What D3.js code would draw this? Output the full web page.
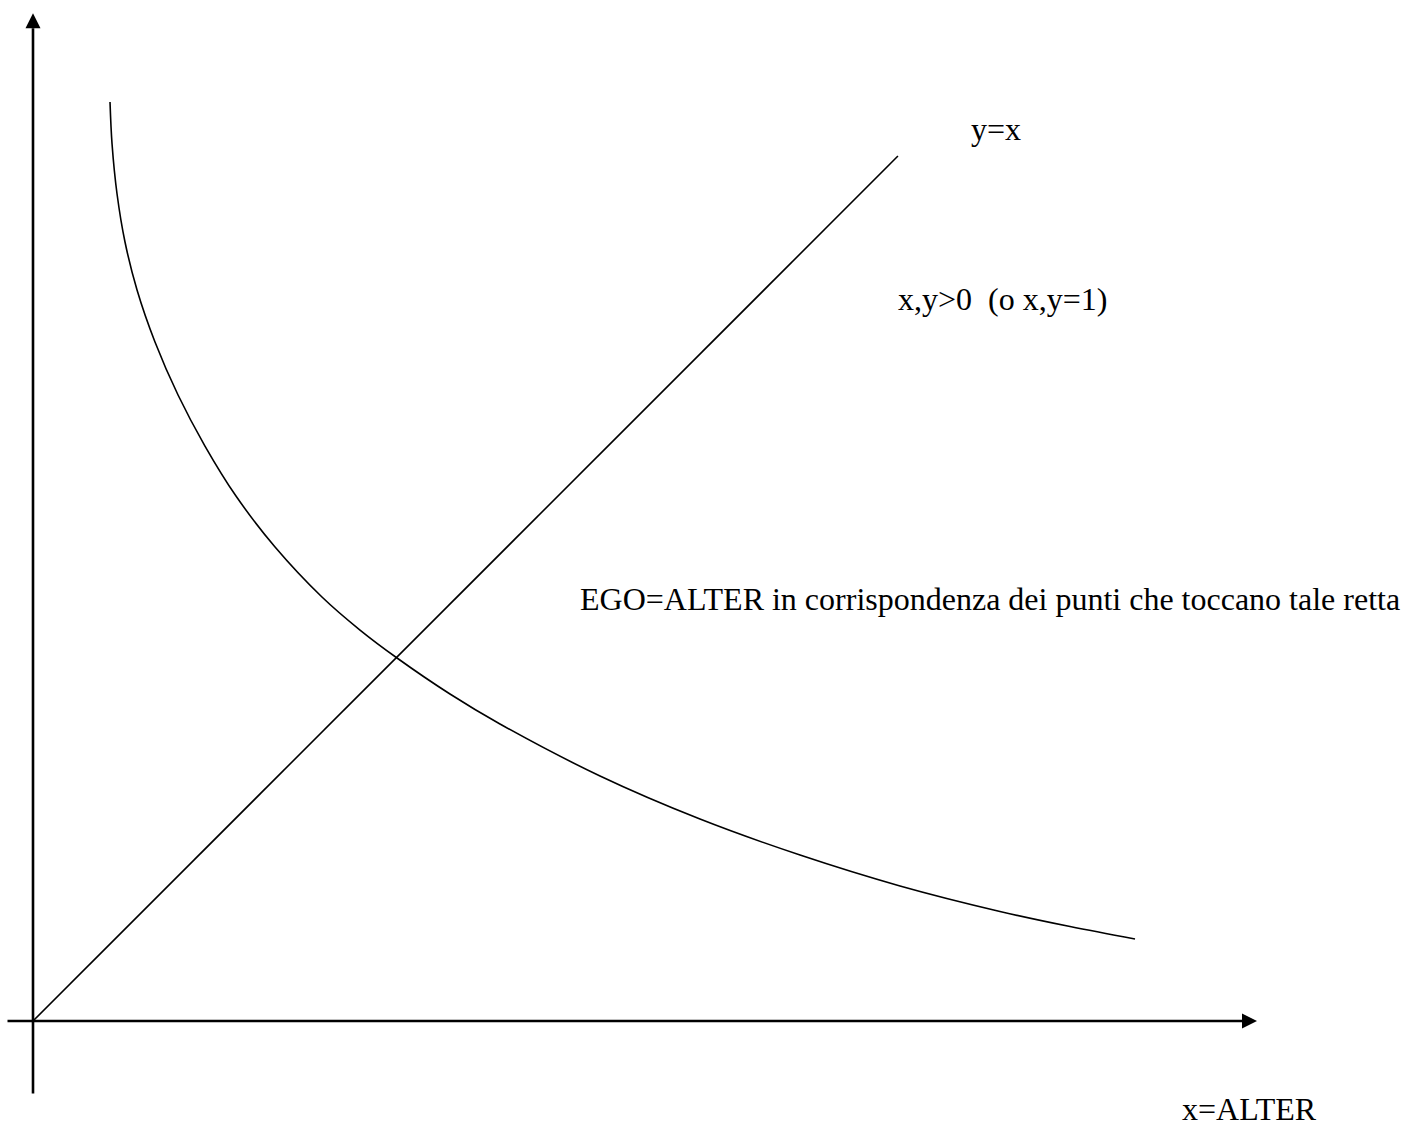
<!DOCTYPE html>
<html>
<head>
<meta charset="utf-8">
<script src="https://cdn.jsdelivr.net/npm/d3@7"></script>
<style>
  html, body { margin: 0; padding: 0; background: #fff; }
  svg { display: block; }
  text { font-family: "Liberation Serif", "Times New Roman", serif; fill: #000; }
</style>
</head>
<body>
<svg class="chart" width="1419" height="1128"></svg>
<script>
// curve (x = ALTER, y = EGO)
var curveX = [0.755, 0.775, 0.824, 0.902, 1.020, 1.196, 1.422, 1.686, 1.990, 2.373, 2.833, 3.206, 3.569, 4.088, 4.578, 5.559, 6.539, 7.520, 8.500, 9.480, 10.167, 10.804];
var curveY = [9.010, 8.598, 8.108, 7.637, 7.167, 6.657, 6.137, 5.637, 5.147, 4.647, 4.157, 3.833, 3.559, 3.206, 2.912, 2.402, 1.980, 1.627, 1.324, 1.074, 0.926, 0.804];
// bisector y = x
var diagX = [0, 8.48];
var diagY = [0, 8.48];
// axis extents (the arrow tips)
var xAxisExtent = [-0.25, 12];
var yAxisExtent = [-0.71, 9.88];
var labels = ["y=x", "x,y>0  (o x,y=1)", "EGO=ALTER in corrispondenza dei punti che toccano tale retta", "x=ALTER"];

var svg = d3.select("svg.chart");
var width = 1419, height = 1128;

var x = d3.scaleLinear().domain([0, 12]).range([33, 1257]);
var y = d3.scaleLinear().domain([0, 10]).range([1021, 1]);

var line = d3.line()
    .x(function(d) { return x(d[0]); })
    .y(function(d) { return y(d[1]); });

var g = svg.append("g");

//Axes with arrow heads
var arrowLen = 15, arrowHalf = 7.5;
g.append("line")
    .attr("x1", x(xAxisExtent[0])).attr("y1", y(0))
    .attr("x2", x(xAxisExtent[1]) - arrowLen).attr("y2", y(0))
    .attr("stroke", "#000").attr("stroke-width", 2.6);
g.append("path")
    .attr("d", "M" + x(xAxisExtent[1]) + "," + y(0) +
               "L" + (x(xAxisExtent[1]) - arrowLen) + "," + (y(0) - arrowHalf) +
               "L" + (x(xAxisExtent[1]) - arrowLen) + "," + (y(0) + arrowHalf) + "Z")
    .attr("fill", "#000");

g.append("line")
    .attr("x1", x(0)).attr("y1", y(yAxisExtent[0]))
    .attr("x2", x(0)).attr("y2", y(yAxisExtent[1]) + arrowLen)
    .attr("stroke", "#000").attr("stroke-width", 2.6);
g.append("path")
    .attr("d", "M" + x(0) + "," + y(yAxisExtent[1]) +
               "L" + (x(0) - arrowHalf) + "," + (y(yAxisExtent[1]) + arrowLen) +
               "L" + (x(0) + arrowHalf) + "," + (y(yAxisExtent[1]) + arrowLen) + "Z")
    .attr("fill", "#000");

//y = x
g.append("path")
    .datum(diagX.map(function(v, i) { return [v, diagY[i]]; }))
    .attr("d", line)
    .attr("fill", "none").attr("stroke", "#000").attr("stroke-width", 1.6);

//Curve
g.append("path")
    .datum(curveX.map(function(v, i) { return [v, curveY[i]]; }))
    .attr("d", line.curve(d3.curveCatmullRom.alpha(0.5)))
    .attr("fill", "none").attr("stroke", "#000").attr("stroke-width", 1.6);

//Labels
var labelPos = [[971, 140], [898, 310], [580, 610], [1182, 1120]];
g.selectAll("text.lbl")
    .data(labels)
    .enter().append("text")
    .attr("class", "lbl")
    .attr("x", function(d, i) { return labelPos[i][0]; })
    .attr("y", function(d, i) { return labelPos[i][1]; })
    .style("font-size", "32px")
    .style("white-space", "pre")
    .text(function(d) { return d; });
</script>
</body>
</html>
